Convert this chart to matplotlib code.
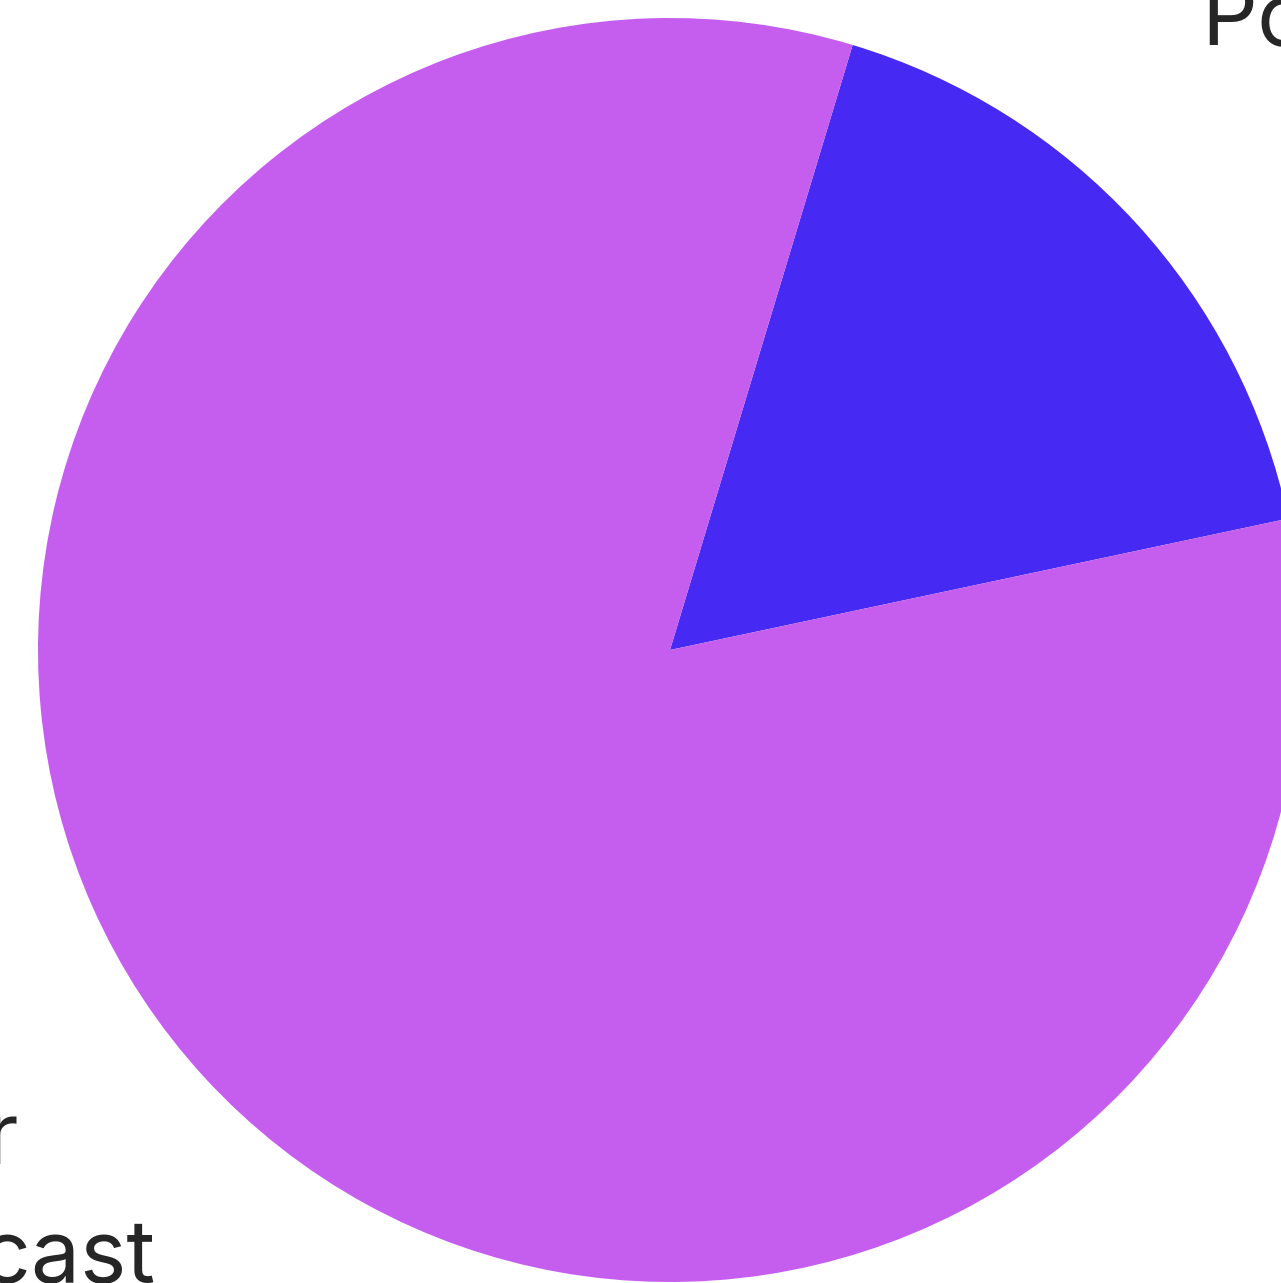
import matplotlib.pyplot as plt

plt.rcParams['font.family'] = ['Inter', 'DejaVu Sans']

# data
categories = ['Podcast', 'Linear\nBroadcast']
shares = [17, 83]
colors = ['#4629F2', '#C55EEE']

fig = plt.figure(figsize=(12.81, 12.83), dpi=100)
ax = fig.add_axes([0, 0, 1, 1])

ax.pie(shares, colors=colors, startangle=12, counterclock=True,
       wedgeprops=dict(linewidth=0))

# crop the view so the pie sits like in the original
ax.set_xlim(-670 / 632, 611 / 632)
ax.set_ylim(-633 / 632, 650 / 632)
ax.set_aspect('auto')
ax.axis('off')

ax.text(0.841, 0.957, categories[0], fontsize=63, color='#262626',
        ha='left', va='baseline')

# the long label is wrapped; each line placed where the original shows it
line1, line2 = categories[1].split('\n')
ax.text(-1.030, -0.812, line1, fontsize=63, color='#262626',
        ha='right', va='baseline')
ax.text(-0.815, -1.0, line2, fontsize=63, color='#262626',
        ha='right', va='baseline')

fig.savefig('out.png', dpi=100)
